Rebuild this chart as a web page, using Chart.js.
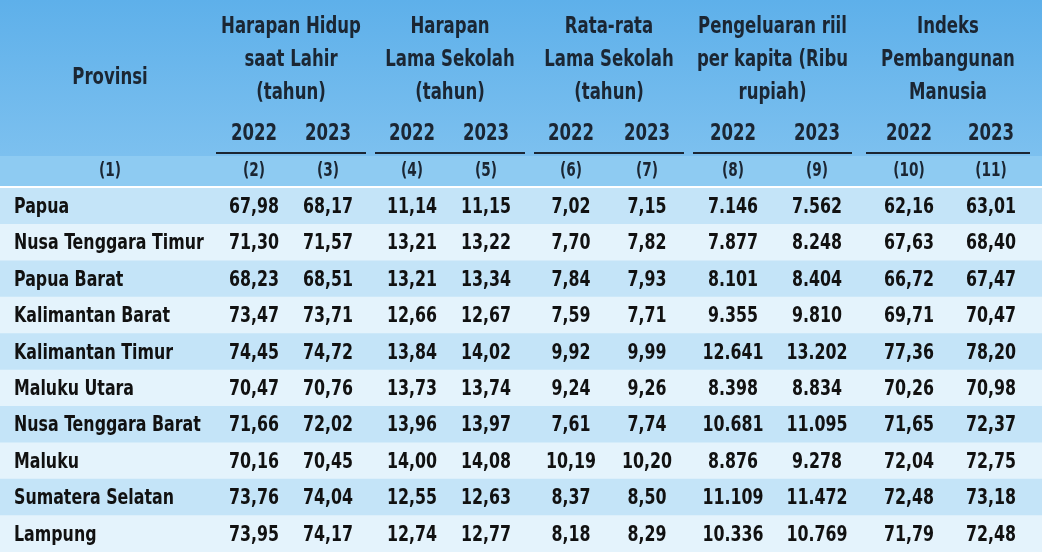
<!DOCTYPE html>
<html><head><meta charset="utf-8">
<script src="https://cdn.jsdelivr.net/npm/chart.js@4/dist/chart.umd.min.js"></script>
<style>html,body{margin:0;padding:0;background:#fff}#wrap{width:1042px;height:555px}</style>
</head><body><div id="wrap"><canvas id="c"></canvas></div>
<script>
const provinces=["Papua","Nusa Tenggara Timur","Papua Barat","Kalimantan Barat","Kalimantan Timur","Maluku Utara","Nusa Tenggara Barat","Maluku","Sumatera Selatan","Lampung"];
const uhh2022=["67,98","71,30","68,23","73,47","74,45","70,47","71,66","70,16","73,76","73,95"];
const uhh2023=["68,17","71,57","68,51","73,71","74,72","70,76","72,02","70,45","74,04","74,17"];
const hls2022=["11,14","13,21","13,21","12,66","13,84","13,73","13,96","14,00","12,55","12,74"];
const hls2023=["11,15","13,22","13,34","12,67","14,02","13,74","13,97","14,08","12,63","12,77"];
const rls2022=["7,02","7,70","7,84","7,59","9,92","9,24","7,61","10,19","8,37","8,18"];
const rls2023=["7,15","7,82","7,93","7,71","9,99","9,26","7,74","10,20","8,50","8,29"];
const ppk2022=["7.146","7.877","8.101","9.355","12.641","8.398","10.681","8.876","11.109","10.336"];
const ppk2023=["7.562","8.248","8.404","9.810","13.202","8.834","11.095","9.278","11.472","10.769"];
const ipm2022=["62,16","67,63","66,72","69,71","77,36","70,26","71,65","72,04","72,48","71,79"];
const ipm2023=["63,01","68,40","67,47","70,47","78,20","70,98","72,37","72,75","73,18","72,48"];
const groupHeaders=[["Harapan Hidup","saat Lahir","(tahun)"],["Harapan","Lama Sekolah","(tahun)"],["Rata-rata","Lama Sekolah","(tahun)"],["Pengeluaran riil","per kapita (Ribu","rupiah)"],["Indeks","Pembangunan","Manusia"]];
const years=["2022","2023"];
const colNums=["(1)","(2)","(3)","(4)","(5)","(6)","(7)","(8)","(9)","(10)","(11)"];
const cols=[uhh2022,uhh2023,hls2022,hls2023,rls2022,rls2023,ppk2022,ppk2023,ipm2022,ipm2023];

const colX=[110,254,328,412,486,571,647,733,817,909,991];
const groupX=[[216,366],[375,525],[534,684],[693,852],[866,1030]];
const FONT='"DejaVu Sans Condensed","DejaVu Sans",sans-serif';
const SQ=0.8;
function txt(ctx,t,x,y,align){
 ctx.save();ctx.translate(x,y);ctx.scale(SQ,1);ctx.textAlign=align||'center';ctx.fillText(t,0,0);ctx.restore();
}

const tablePlugin={id:'tbl',
 beforeDatasetsDraw(chart){
  const ctx=chart.ctx;ctx.save();
  const g=ctx.createLinearGradient(0,0,0,155);g.addColorStop(0,'#5eb0ea');g.addColorStop(1,'#7cc0ef');
  ctx.fillStyle=g;ctx.fillRect(0,0,1042,156);
  ctx.fillStyle='#8ecbf2';ctx.fillRect(0,156,1042,30);
  ctx.fillStyle='#1b2633';ctx.textBaseline='middle';
  ctx.font='bold 23px '+FONT;
  txt(ctx,'Provinsi',colX[0],78);
  groupHeaders.forEach((lines,gi)=>{
   const cx=(groupX[gi][0]+groupX[gi][1])/2;
   lines.forEach((l,li)=>txt(ctx,l,cx,27+li*33));
   txt(ctx,years[0],colX[1+gi*2],134);txt(ctx,years[1],colX[2+gi*2],134);
   ctx.fillRect(groupX[gi][0],152,groupX[gi][1]-groupX[gi][0],2);
  });
  ctx.font='bold 19px '+FONT;
  colNums.forEach((t,i)=>txt(ctx,t,colX[i],171));
  ctx.restore();
 },
 afterDatasetsDraw(chart){
  const ctx=chart.ctx,ys=chart.scales.y;ctx.save();
  ctx.fillStyle='#111';ctx.textBaseline='middle';ctx.font='bold 22px '+FONT;
  provinces.forEach((p,r)=>{
   const y=ys.getPixelForValue(r)+1;
   txt(ctx,p,14,y,'left');
   cols.forEach((c,ci)=>txt(ctx,c[r],colX[ci+1],y));
  });
  ctx.restore();
 }};

new Chart(document.getElementById('c'),{
 type:'bar',
 data:{labels:provinces,datasets:[{data:provinces.map(()=>[0,1042]),
  backgroundColor:provinces.map((_,i)=>i%2===0?'#c4e4f8':'#e4f3fc'),
  barPercentage:1,categoryPercentage:1,borderWidth:0}]},
 options:{indexAxis:'y',responsive:true,maintainAspectRatio:false,animation:false,
  layout:{padding:{top:188,bottom:3,left:0,right:0}},
  plugins:{legend:{display:false},tooltip:{enabled:false}},
  scales:{x:{type:'linear',min:0,max:1042,display:false},y:{display:false}}},
 plugins:[tablePlugin]});
</script></body></html>
